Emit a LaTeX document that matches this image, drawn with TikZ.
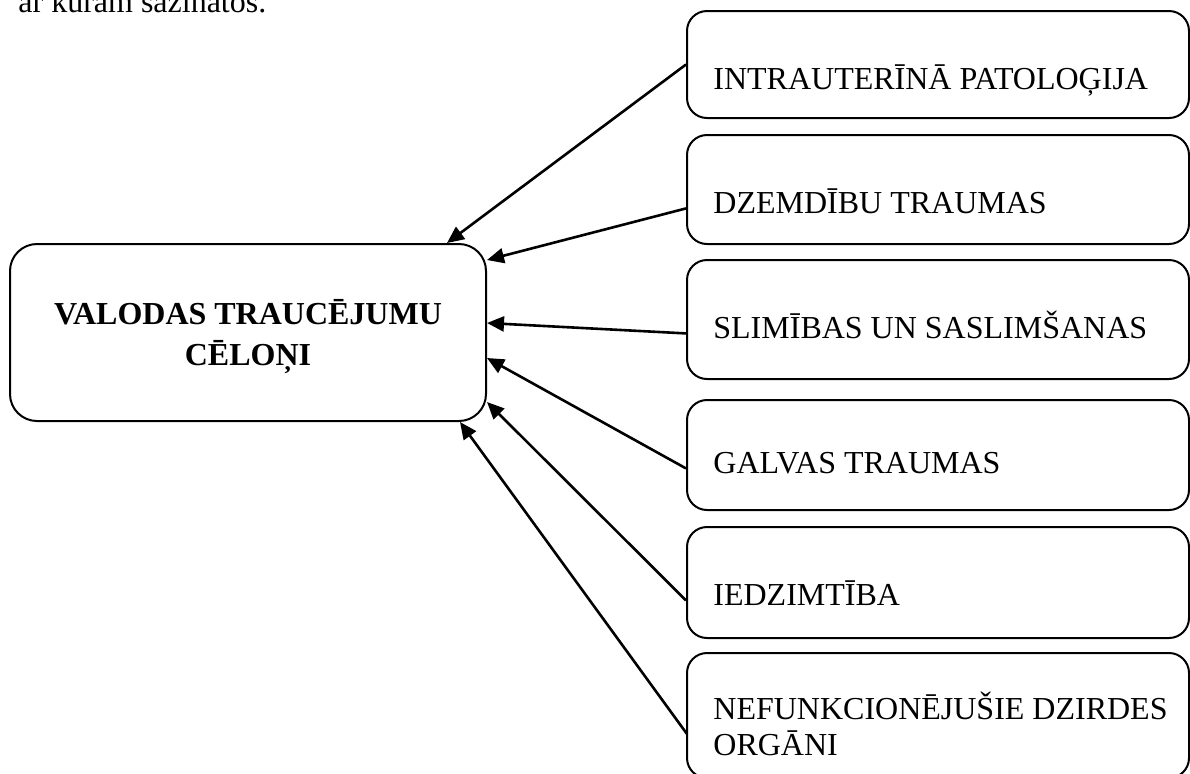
\documentclass[tikz,border=0pt]{standalone}
\usepackage{fontspec}
\setmainfont{Liberation Serif}
\usetikzlibrary{arrows.meta}

\begin{document}
\begin{tikzpicture}[x=0.5pt, y=-0.5pt, every node/.style={inner sep=0pt, font=\fontsize{16}{18}\selectfont},
    causebox/.style={draw, line width=1pt, rounded corners=10pt, minimum width=251pt},
    causetext/.style={anchor=base west, align=left},
    causearrow/.style={line width=1.3pt, -{Triangle[length=8.5pt,width=7.5pt]}}]
  \useasboundingbox (0,0) rectangle (1190,773);
  \node [anchor=base west] (intro) at (18,12) {ar kurām sazinātos.};
  \node [draw, line width=1pt, rounded corners=13.5pt, minimum width=238pt, minimum height=88.5pt,
         align=center, text depth=0pt, font=\bfseries\fontsize{16}{20.5}\selectfont] (c) at (248,332.5) {VALODAS TRAUCĒJUMU\\CĒLOŅI};
    \node [causebox, minimum height=53.5pt] (b1) at (938,64.5) {};
    \node [causebox, minimum height=54.5pt] (b2) at (938,189.5) {};
    \node [causebox, minimum height=59.5pt] (b3) at (938,319.5) {};
    \node [causebox, minimum height=55pt] (b4) at (938,455) {};
    \node [causebox, minimum height=55.5pt] (b5) at (938,582.5) {};
    \node [causebox, minimum height=62.5pt] (b6) at (938,715.5) {};
  \node [causetext] (t1) at (713,89) {INTRAUTERĪNĀ PATOLOĢIJA};
  \node [causetext] (t2) at (713,213) {DZEMDĪBU TRAUMAS};
  \node [causetext] (t3) at (713,338) {SLIMĪBAS UN SASLIMŠANAS};
  \node [causetext] (t4) at (713,473) {GALVAS TRAUMAS};
  \node [causetext] (t5) at (713,605) {IEDZIMTĪBA};
  \node [causetext, anchor=west] (t6) at (713,724) {NEFUNKCIONĒJUŠIE DZIRDES\\ORGĀNI};
    % arrow tips on the main box
    \coordinate (h1) at (447,243);
    \coordinate (h2) at (487,260);
    \coordinate (h3) at (487,323);
    \coordinate (h4) at (487,358);
    \coordinate (h5) at (487,402);
    \coordinate (h6) at (460,422);
    \coordinate (s6) at (687,734);
  \draw [causearrow] (b1.west) -- (h1);
  \draw [causearrow] (b2.west |- t2.mid) -- (h2);
  \draw [causearrow] (b3.west |- t3.mid) -- (h3);
  \draw [causearrow] (b4.west |- t4.mid) -- (h4);
  \draw [causearrow] (b5.west |- t5.mid) -- (h5);
  \draw [causearrow] (s6) -- (h6);
\end{tikzpicture}
\end{document}
